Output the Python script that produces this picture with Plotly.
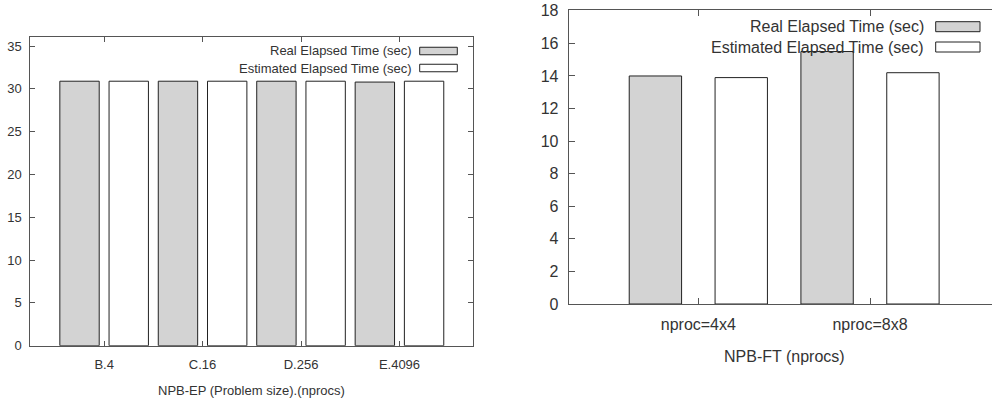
import plotly.graph_objects as go

# NPB-EP: problem size / process count
ep_cases = ["B.4", "C.16", "D.256", "E.4096"]
ep_real = [30.9, 30.9, 30.9, 30.8]
ep_est = [30.9, 30.9, 30.9, 30.9]

# NPB-FT: process grid
ft_cases = ["nproc=4x4", "nproc=8x8"]
ft_real = [14.0, 15.5]
ft_est = [13.9, 14.2]

series_names = ["Real Elapsed Time (sec)", "Estimated Elapsed Time (sec)"]
series_fill = ["#d3d3d3", "#ffffff"]
axis_titles = ["NPB-EP (Problem size).(nprocs)", "NPB-FT (nprocs)"]

W, H = 992, 401
FONT = "Liberation Sans, Arial, sans-serif"
TEXT = "#333333"
AXIS = "#555555"
EDGE = "#222222"


def px_x(x):
    return x / W


def px_y(y):
    return 1 - y / H


fig = go.Figure()


def add_pair(cats, real, est, xa, ya, width):
    for vals, name, fill, centre in zip(
        (real, est), series_names, series_fill, (-0.25, 0.25)
    ):
        fig.add_trace(go.Bar(
            x=cats, y=vals, name=name, xaxis=xa, yaxis=ya,
            width=width, offset=centre - width / 2,
            marker=dict(color=fill, line=dict(color=EDGE, width=1)),
            showlegend=False,
        ))


add_pair(ep_cases, ep_real, ep_est, "x", "y", 0.4)
add_pair(ft_cases, ft_real, ft_est, "x2", "y2", 0.305)


def text(x, y, s, size, anchor="center"):
    fig.add_annotation(
        x=px_x(x), y=px_y(y), xref="paper", yref="paper", text=s,
        showarrow=False, xanchor=anchor, yanchor="middle",
        font=dict(family=FONT, size=size, color=TEXT),
    )


def legend(right_px, swatch, rows_y, sw_h, size):
    for name, fill, yc in zip(series_names, series_fill, rows_y):
        text(right_px, yc, name, size, anchor="right")
        fig.add_shape(
            type="rect", xref="paper", yref="paper",
            x0=px_x(swatch[0]), x1=px_x(swatch[1]),
            y0=px_y(yc - sw_h / 2), y1=px_y(yc + sw_h / 2),
            fillcolor=fill, line=dict(color=EDGE, width=1),
        )


legend(414, (419.7, 457.3), (51, 68), 7.5, 13)
legend(926, (935.7, 980), (26.7, 47), 10, 16)

# axis titles
text(251.5, 390.5, axis_titles[0], 13)
text(784, 356.5, axis_titles[1], 16)

common_axis = dict(
    showline=True, linecolor=AXIS, linewidth=1, ticks="inside",
    tickcolor=AXIS, tickwidth=1, showgrid=False, zeroline=False,
    automargin=False,
)

fig.update_layout(
    template="none",
    width=W, height=H, margin=dict(l=0, r=0, t=0, b=0, pad=0),
    paper_bgcolor="white", plot_bgcolor="white", barmode="overlay",
    font=dict(family=FONT, color=TEXT),
    showlegend=False,
    xaxis=dict(
        **common_axis, domain=[px_x(30.3), px_x(473.3)], range=[-0.75, 3.75],
        mirror="allticks", ticklen=5, anchor="y", ticklabelstandoff=7,
        tickfont=dict(family=FONT, size=13, color=TEXT),
    ),
    yaxis=dict(
        **common_axis, domain=[px_y(345.7), px_y(36.7)], range=[0, 36.1],
        dtick=5, mirror="allticks", ticklen=5, anchor="x", ticklabelstandoff=5,
        tickfont=dict(family=FONT, size=13, color=TEXT),
    ),
    xaxis2=dict(
        **common_axis, domain=[px_x(568.7), 1.0], range=[-0.755, 1.7105],
        mirror="ticks", ticklen=6, anchor="y2", ticklabelstandoff=6,
        tickfont=dict(family=FONT, size=16, color=TEXT),
    ),
    yaxis2=dict(
        **common_axis, domain=[px_y(304), px_y(10)], range=[0, 18.05],
        dtick=2, mirror=False, ticklen=6, anchor="x2", ticklabelstandoff=6,
        tickfont=dict(family=FONT, size=16, color=TEXT),
    ),
)

fig.write_html("out.html")
